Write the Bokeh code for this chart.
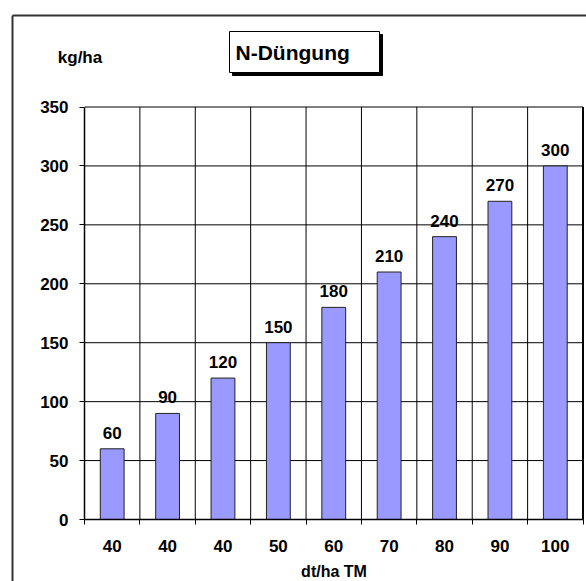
from bokeh.plotting import figure
from bokeh.models import FixedTicker, BoxAnnotation, Label, ColumnDataSource, Range1d
from bokeh.core.properties import value
from bokeh.embed import file_html
from bokeh.resources import INLINE

# ---- data ----
categories = ["40", "40", "40", "50", "60", "70", "80", "90", "100"]
n_duengung = [60, 90, 120, 150, 180, 210, 240, 270, 300]
y_ticks = [0, 50, 100, 150, 200, 250, 300, 350]
title_text = "N-Düngung"
y_unit = "kg/ha"
x_title = "dt/ha TM"

FONT = "Liberation Sans"

n = len(categories)
Y_MAX = y_ticks[-1]
xs = [i + 0.5 for i in range(n)]
src = ColumnDataSource(dict(x=xs, top=n_duengung, lbl=[str(v) for v in n_duengung]))

# canvas and plot-area placement (pixels); the frame covers the whole canvas
W, H = 586, 581
FL, FR, FT, FB = 84, 582.5, 106.5, 519
PX_X = (FR - FL) / n
PX_Y = (FB - FT) / Y_MAX


def dx(px):
    return (px - FL) / PX_X


def dy(py):
    return (FB - py) / PX_Y


p = figure(width=W, height=H,
           x_range=Range1d(dx(0), dx(W)), y_range=Range1d(dy(H), dy(0)),
           output_backend="svg", toolbar_location=None,
           min_border=0)
p.min_border_left = 0
p.min_border_right = 0
p.min_border_top = 0
p.min_border_bottom = 0
p.background_fill_color = "white"
p.border_fill_color = "white"
p.outline_line_color = None
p.outline_line_alpha = 0
p.xgrid.visible = False
p.ygrid.visible = False

# grid lines limited to the plot area (right edge drawn heavier)
h_lines = y_ticks[1:]
v_lines = list(range(1, n + 1))
p.segment(x0=[0] * len(h_lines), y0=h_lines, x1=[n] * len(h_lines), y1=h_lines,
          line_color="black", line_width=1)
p.segment(x0=v_lines, y0=[0] * len(v_lines), x1=v_lines, y1=[Y_MAX] * len(v_lines),
          line_color="black", line_width=[1] * (len(v_lines) - 1) + [2])

p.vbar(x="x", top="top", width=0.43, bottom=0, source=src,
       fill_color="#9999FF", line_color="#222222", line_width=1)
p.text(x="x", y="top", text="lbl", source=src,
       text_align="center", text_baseline="alphabetic", y_offset=-16,
       text_font=value(FONT), text_font_style="bold",
       text_font_size="17px", text_color="black")

# axes fixed at the data origin, limited to the plot area
p.xaxis.fixed_location = 0
p.xaxis.bounds = (0, n)
p.xaxis.ticker = FixedTicker(ticks=xs, minor_ticks=list(range(n + 1)))
p.xaxis.major_label_overrides = {x: c for x, c in zip(xs, categories)}
p.xaxis.major_tick_line_color = None
p.xaxis.major_tick_out = 0
p.xaxis.major_tick_in = 0
p.xaxis.minor_tick_line_color = "black"
p.xaxis.minor_tick_out = 5
p.xaxis.minor_tick_in = 0
p.xaxis.major_label_standoff = 15
p.xaxis.axis_label = x_title
p.xaxis.axis_label_standoff = 8
p.xaxis.axis_label_text_font = FONT
p.xaxis.axis_label_text_font_style = "bold"
p.xaxis.axis_label_text_font_size = "16px"
p.xaxis.axis_label_text_color = "black"

p.yaxis.fixed_location = 0
p.yaxis.bounds = (0, Y_MAX)
p.yaxis.ticker = FixedTicker(ticks=y_ticks, minor_ticks=[])
p.yaxis.major_tick_out = 5
p.yaxis.major_tick_in = 0
p.yaxis.major_tick_line_color = "black"
p.yaxis.major_label_standoff = 11

for ax in (p.xaxis, p.yaxis):
    ax.axis_line_color = "black"
    ax.axis_line_width = 1.5
    ax.major_label_text_font = FONT
    ax.major_label_text_font_style = "bold"
    ax.major_label_text_font_size = "17px"
    ax.major_label_text_color = "black"

# outer chart border: left and top edges only, kept inside the canvas
p.segment(x0=[dx(12), dx(12)], y0=[dy(15), dy(15)],
          x1=[dx(12), dx(W - 0.5)], y1=[dy(H - 0.5), dy(15)],
          line_color="#333333", line_width=2)

# title box with shadow
p.add_layout(BoxAnnotation(left=dx(232), right=dx(382), top=dy(34), bottom=dy(75),
                           fill_color="black", fill_alpha=1, line_color="black", line_alpha=1))
p.add_layout(BoxAnnotation(left=dx(229), right=dx(379), top=dy(31), bottom=dy(72),
                           fill_color="white", fill_alpha=1, line_color="black", line_alpha=1,
                           line_width=1))
p.add_layout(Label(x=dx(235), y=dy(52), text=title_text,
                   text_font=FONT, text_font_style="bold", text_font_size="21px",
                   text_color="black", text_baseline="middle", text_align="left"))
p.add_layout(Label(x=dx(79.5), y=dy(57), text=y_unit,
                   text_font=FONT, text_font_style="bold", text_font_size="17px",
                   text_color="black", text_baseline="middle", text_align="center"))

open("out.html", "w").write(file_html(p, INLINE))
